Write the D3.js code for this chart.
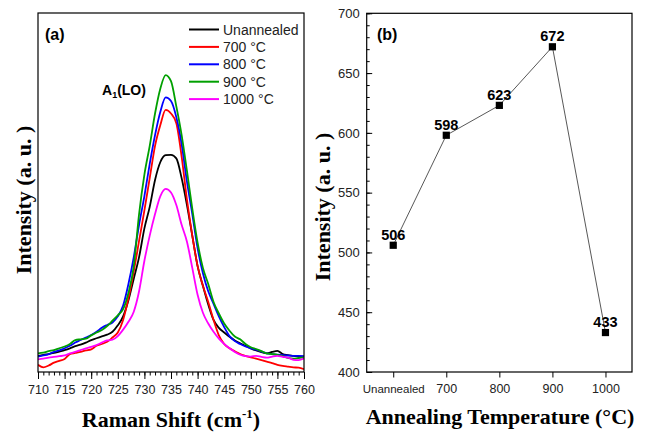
<!DOCTYPE html>
<html>
<head>
<meta charset="utf-8">
<script src="https://cdn.jsdelivr.net/npm/d3@7/dist/d3.min.js"></script>
<style>
  html, body { margin: 0; padding: 0; background: #fff; }
  svg { display: block; }
</style>
</head>
<body>
<svg id="chart" width="647" height="432" font-family="'Liberation Sans', Arial, sans-serif"></svg>
<script>
// ---------------- Panel (a) data: Raman spectra ----------------
const ramanShift = [710,711,712,713,714,715,716,717,718,719,720,721,722,723,724,725,726,727,728,729,
  730,731,732,733,734,735,736,737,738,739,740,741,742,743,744,745,746,747,748,749,
  750,751,752,753,754,755,756,757,758,759,760];

const unannealed = [4.5,4.8,5.0,5.3,5.7,6.1,6.6,7.2,7.6,8.2,8.9,9.4,9.9,10.4,11.2,13.0,15.5,20.0,26.0,32.0,
  40.0,46.0,53.5,58.5,60.4,60.5,59.5,54.0,46.5,38.0,29.5,24.0,18.8,14.5,12.3,11.0,9.8,8.8,8.0,7.3,
  6.6,6.0,5.5,5.2,5.6,5.9,5.0,4.7,4.5,4.3,4.3];
const t700 = [2.0,1.3,1.8,2.6,3.1,3.6,5.0,5.3,5.6,6.0,6.3,7.3,7.8,8.4,9.6,11.0,14.5,20.5,28.0,36.5,
  45.0,54.0,63.0,68.8,73.0,72.0,69.3,60.0,48.0,38.0,29.5,24.0,19.5,14.5,10.2,7.8,6.6,5.8,5.0,4.5,
  4.1,3.7,3.3,2.9,2.5,2.0,1.7,1.5,1.3,1.2,0.8];
const t800 = [4.3,4.6,5.0,5.6,6.0,6.6,7.3,8.2,8.9,9.6,10.3,11.2,12.3,13.1,13.8,15.5,18.5,24.5,32.0,41.0,
  49.0,58.0,66.0,72.5,76.5,75.5,71.0,63.5,53.0,44.0,34.5,27.5,22.5,19.0,15.5,12.5,10.0,8.6,7.8,7.1,
  6.6,6.2,5.7,5.2,5.0,4.8,4.7,4.6,4.5,4.5,4.4];
const t900 = [5.2,5.4,5.8,6.1,6.6,7.1,7.8,8.9,9.1,9.3,10.2,11.0,11.7,12.8,14.3,15.8,17.5,22.0,29.5,44.0,
  55.0,63.0,72.0,79.0,82.7,81.0,74.0,66.0,56.0,45.5,36.0,29.0,24.5,19.5,16.3,13.5,11.5,9.9,9.1,7.8,
  6.9,6.4,5.8,5.2,5.0,4.8,4.4,3.9,3.7,3.9,4.1];
const t1000 = [3.5,3.7,4.0,4.2,4.4,4.6,5.2,5.6,6.1,6.6,7.0,7.5,8.2,8.8,9.0,10.0,11.8,14.0,16.8,22.5,
  31.0,38.0,44.0,49.0,51.0,50.0,46.5,41.0,36.3,29.0,21.5,16.5,13.5,11.2,9.3,7.8,6.6,5.6,4.8,4.4,
  4.3,4.5,4.2,4.0,4.3,4.5,4.2,4.0,3.4,3.3,3.8];

const seriesNames = ["Unannealed", "700 \u00B0C", "800 \u00B0C", "900 \u00B0C", "1000 \u00B0C"];
const seriesColors = ["#000000", "#ff0000", "#0000ff", "#00a000", "#ff00ff"];
const seriesValues = [unannealed, t700, t800, t900, t1000];
const ramanTicks = [710,715,720,725,730,735,740,745,750,755,760];

// ---------------- Panel (b) data: peak intensity ----------------
const tempLabels = ["Unannealed", "700", "800", "900", "1000"];
const tempPositions = [600, 700, 800, 900, 1000];
const peakIntensity = [506, 598, 623, 672, 433];
const intensityTicks = [400, 450, 500, 550, 600, 650, 700];

const SERIF = "'Liberation Serif', 'Times New Roman', serif";
const SANS = "'Liberation Sans', Arial, sans-serif";

const svg = d3.select("#chart");

// ================= Panel (a) =================
const A = {left: 38, right: 304, top: 13, bottom: 372};
const xa = d3.scaleLinear().domain([710, 760]).range([A.left, A.right]);
const ya = d3.scaleLinear().domain([0, 100]).range([A.bottom, A.top]);

const ga = svg.append("g");
ga.append("defs").append("clipPath").attr("id", "clipA")
  .append("rect").attr("x", A.left).attr("y", A.top)
  .attr("width", A.right - A.left).attr("height", A.bottom - A.top);

const line = d3.line().x((d, i) => xa(ramanShift[i])).y(d => ya(d)).curve(d3.curveMonotoneX);
seriesValues.forEach((vals, k) => {
  ga.append("path").datum(vals)
    .attr("clip-path", "url(#clipA)")
    .attr("d", line)
    .attr("fill", "none")
    .attr("stroke", seriesColors[k])
    .attr("stroke-width", 1.8);
});

// x axis (outward ticks, minor every 1)
const axA = ga.append("g").attr("transform", `translate(0,${A.bottom})`);
axA.call(d3.axisBottom(xa).tickValues(ramanShift).tickSize(3.5).tickFormat(""))
  .call(g => g.select(".domain").remove());
axA.append("g").call(d3.axisBottom(xa).tickValues(ramanTicks).tickSize(7).tickPadding(6).tickFormat(d3.format("d")))
  .call(g => g.select(".domain").remove());
axA.selectAll("line").attr("stroke", "#000").attr("stroke-width", 1);
axA.selectAll("text").attr("font-size", 12.5).attr("fill", "#222").attr("font-family", SANS);

// frame
ga.append("rect").attr("x", A.left).attr("y", A.top)
  .attr("width", A.right - A.left).attr("height", A.bottom - A.top)
  .attr("fill", "none").attr("stroke", "#000").attr("stroke-width", 1.2);

// legend
const legA = ga.append("g");
seriesNames.forEach((name, k) => {
  const y = 29.5 + k * 17.4;
  legA.append("line").attr("x1", 189).attr("x2", 219).attr("y1", y).attr("y2", y)
    .attr("stroke", seriesColors[k]).attr("stroke-width", 2);
  legA.append("text").attr("x", 223).attr("y", y + 5).attr("font-size", 14).attr("fill", "#222")
    .text(name);
});

ga.append("text").attr("x", 45).attr("y", 40).attr("font-size", 16).attr("font-weight", "bold").text("(a)");

const lo = ga.append("text").attr("x", 102).attr("y", 95).attr("font-size", 14).attr("font-weight", "bold");
lo.append("tspan").text("A");
lo.append("tspan").attr("font-size", 9).attr("dy", 3).text("1");
lo.append("tspan").attr("dy", -3).text("(LO)");

// axis titles
const xtA = svg.append("text").attr("x", 171).attr("y", 427).attr("text-anchor", "middle")
  .attr("font-family", SERIF).attr("font-size", 22).attr("font-weight", "bold");
xtA.append("tspan").text("Raman Shift (cm");
xtA.append("tspan").attr("font-size", 13).attr("dy", -9).text("-1");
xtA.append("tspan").attr("dy", 9).text(")");

svg.append("text").attr("transform", "translate(31,200) rotate(-90)").attr("text-anchor", "middle")
  .attr("font-family", SERIF).attr("font-size", 22).attr("font-weight", "bold").text("Intensity (a. u. )");

// ================= Panel (b) =================
const B = {left: 366.7, right: 632, top: 13.3, bottom: 372};
const xb = d3.scaleLinear().domain([550, 1050]).range([B.left, B.right]);
const yb = d3.scaleLinear().domain([400, 700]).range([B.bottom, B.top]);
const gb = svg.append("g");

// y axis: inward ticks, minor every 10
const minorY = d3.range(400, 701, 10);
const ayB = gb.append("g").attr("transform", `translate(${B.left},0)`);
ayB.append("g").call(d3.axisLeft(yb).tickValues(minorY).tickSize(-3).tickFormat(""))
  .call(g => g.select(".domain").remove());
ayB.append("g").call(d3.axisLeft(yb).tickValues(intensityTicks).tickSize(-5.5).tickPadding(7).tickFormat(d3.format("d")))
  .call(g => g.select(".domain").remove());
ayB.selectAll("line").attr("stroke", "#000");
ayB.selectAll("text").attr("font-size", 13).attr("fill", "#222").attr("x", -7).attr("font-family", SANS);

// x axis: outward ticks
const axB = gb.append("g").attr("transform", `translate(0,${B.bottom})`);
axB.call(d3.axisBottom(xb).tickValues(tempPositions).tickSize(5.5).tickPadding(7)
  .tickFormat((d, i) => tempLabels[i]))
  .call(g => g.select(".domain").remove());
axB.selectAll("line").attr("stroke", "#000");
axB.selectAll("text").attr("font-size", 12.5).attr("fill", "#222").attr("font-family", SANS);
axB.selectAll("text").filter((d, i) => i === 0).attr("font-size", 11.5);

// connecting line
const pts = tempPositions.map((t, i) => [t, peakIntensity[i]]);
gb.append("path").datum(pts)
  .attr("d", d3.line().x(d => xb(d[0])).y(d => yb(d[1])))
  .attr("fill", "none").attr("stroke", "#444").attr("stroke-width", 0.9);

// markers
gb.selectAll("rect.pt").data(pts).enter().append("rect").attr("class", "pt")
  .attr("x", d => xb(d[0]) - 3.6).attr("y", d => yb(d[1]) - 3.6)
  .attr("width", 7.2).attr("height", 7.2).attr("fill", "#000");

// value labels
gb.selectAll("text.val").data(pts).enter().append("text").attr("class", "val")
  .attr("x", d => xb(d[0])).attr("y", d => yb(d[1]) - 5.5)
  .attr("text-anchor", "middle").attr("font-size", 14.5).attr("font-weight", "bold")
  .text(d => d[1]);

// frame
gb.append("rect").attr("x", B.left).attr("y", B.top)
  .attr("width", B.right - B.left).attr("height", B.bottom - B.top)
  .attr("fill", "none").attr("stroke", "#000").attr("stroke-width", 1.2);

gb.append("text").attr("x", 377).attr("y", 40).attr("font-size", 16).attr("font-weight", "bold").text("(b)");

svg.append("text").attr("x", 500).attr("y", 424).attr("text-anchor", "middle")
  .attr("font-family", SERIF).attr("font-size", 22).attr("font-weight", "bold")
  .text("Annealing Temperature (\u00B0C)");

svg.append("text").attr("transform", "translate(330,207) rotate(-90)").attr("text-anchor", "middle")
  .attr("font-family", SERIF).attr("font-size", 22).attr("font-weight", "bold").text("Intensity (a. u. )");
</script>
</body>
</html>
